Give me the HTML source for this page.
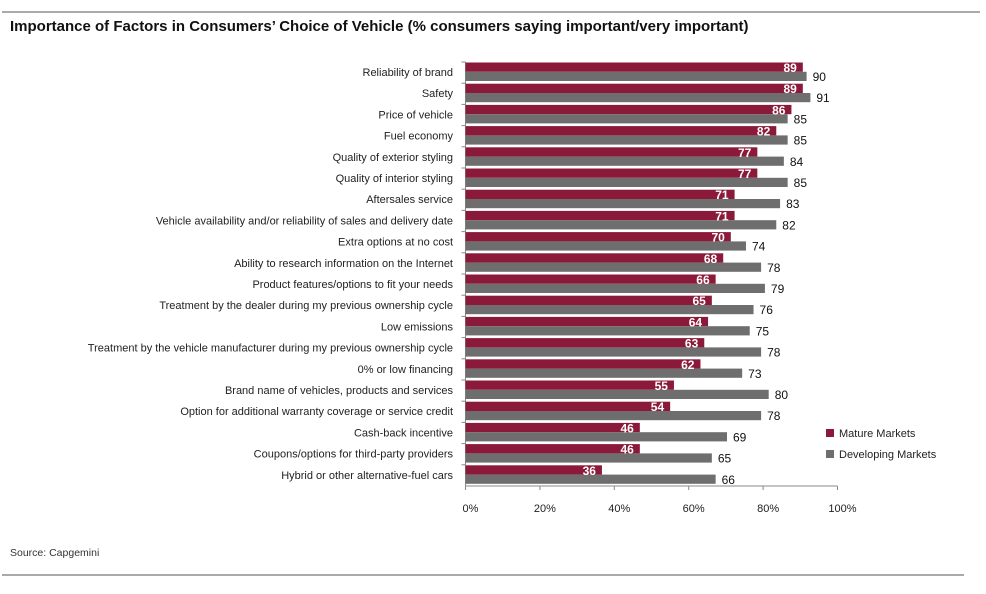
<!DOCTYPE html>
<html><head><meta charset="utf-8"><style>
body{margin:0;background:#fff;font-family:"Liberation Sans",sans-serif}
svg text{font-family:"Liberation Sans",sans-serif}
</style></head><body>
<svg id="c" width="986" height="589">
<line x1="2" y1="12" x2="980" y2="12" stroke="#777" stroke-width="1.2"/>
<text x="10" y="31" font-size="15" font-weight="bold" fill="#111">Importance of Factors in Consumers’ Choice of Vehicle (% consumers saying important/very important)</text>
<line x1="2" y1="575" x2="964" y2="575" stroke="#777" stroke-width="1.2"/>
<text x="10" y="556" font-size="10.5" fill="#333">Source: Capgemini</text>
<rect x="826" y="429" width="8" height="8" fill="#8b1a3a"/>
<text x="839" y="437" font-size="11" fill="#222">Mature Markets</text>
<rect x="826" y="450" width="8" height="8" fill="#6e6e6e"/>
<text x="839" y="458" font-size="11" fill="#222">Developing Markets</text>
<g id="g"></g>
</svg>
<script>
const categories=["Reliability of brand","Safety","Price of vehicle","Fuel economy","Quality of exterior styling","Quality of interior styling","Aftersales service","Vehicle availability and/or reliability of sales and delivery date","Extra options at no cost","Ability to research information on the Internet","Product features/options to fit your needs","Treatment by the dealer during my previous ownership cycle","Low emissions","Treatment by the vehicle manufacturer during my previous ownership cycle","0% or low financing","Brand name of vehicles, products and services","Option for additional warranty coverage or service credit","Cash-back incentive","Coupons/options for third-party providers","Hybrid or other alternative-fuel cars"];
const mature=[89,89,86,82,77,77,71,71,70,68,66,65,64,63,62,55,54,46,46,36];
const developing=[90,91,85,85,84,85,83,82,74,78,79,76,75,78,73,80,78,69,65,66];
const ticks=[0,20,40,60,80,100];
const X0=465.5,W=379,AW=372,Y0=62,P=21.2,AX=486;
const x=v=>X0+v/100*W, ax=v=>X0+v/100*AW, y=i=>Y0+i*P;
const g=document.getElementById('g'),NS="http://www.w3.org/2000/svg";
function mk(t,a,txt){const e=document.createElementNS(NS,t);for(const k in a)e.setAttribute(k,a[k]);if(txt!=null)e.textContent=txt;g.appendChild(e);return e;}
let e=mk('line',{x1:X0,y1:Y0,x2:X0,y2:AX,stroke:'#888'});


e=mk('line',{x1:X0,y1:AX,x2:ax(100),y2:AX,stroke:'#888'});


ticks.forEach(t=>{
 let l=mk('line',{x1:ax(t),y1:AX,x2:ax(t),y2:AX+4,stroke:'#888'});
 
 
 let tx=mk('text',{x:ax(t)+5,y:AX+26,'font-size':11,'text-anchor':'middle',fill:'#222'},t+'%');
 
 
});
categories.forEach((c,i)=>{
 const top=y(i);
 let tk=mk('line',{x1:X0-4,y1:top,x2:X0,y2:top,stroke:'#888'});
 
 
 let lb=mk('text',{x:453,y:top+14,'font-size':11,'text-anchor':'end',fill:'#222'},c);
 
 
 let r=mk('rect',{x:X0,y:top+0.5,width:x(mature[i])-X0,height:9.3,fill:'#8b1a3a'});
 
 
 let d=mk('rect',{x:X0,y:top+9.8,width:x(developing[i])-X0,height:9.2,fill:'#6e6e6e'});
 
 
 let mv=mk('text',{x:x(mature[i])-6,y:top+10,'font-size':12,'font-weight':'bold','text-anchor':'end',fill:'#fff'},mature[i]);
 
 
 let dv=mk('text',{x:x(developing[i])+6,y:top+19,'font-size':12,fill:'#111'},developing[i]);
 
 
});
</script>
</body></html>
